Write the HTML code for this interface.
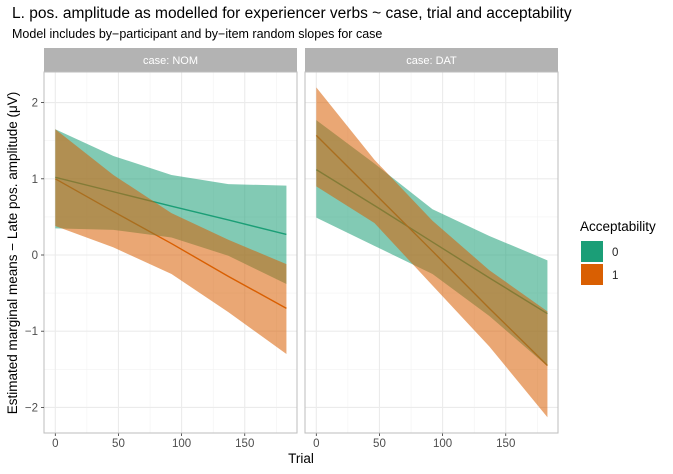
<!DOCTYPE html>
<html><head><meta charset="utf-8"><style>
body{margin:0;background:#fff;}
svg text{font-family:"Liberation Sans",Arial,sans-serif;}
</style></head><body>
<svg id="c" width="673" height="469" viewBox="0 0 673 469" xmlns="http://www.w3.org/2000/svg">
<text x="12" y="18" font-size="15.5" fill="#000">L. pos. amplitude as modelled for experiencer verbs ~ case, trial and acceptability</text>
<text x="12" y="38" font-size="12.5" fill="#000">Model includes by−participant and by−item random slopes for case</text>
<text transform="translate(17,253) rotate(-90)" text-anchor="middle" font-size="13.5" fill="#000">Estimated marginal means − Late pos. amplitude (μV)</text>
<text x="301" y="463" text-anchor="middle" font-size="13.5" fill="#000">Trial</text>
<text x="580" y="231" font-size="13.5" fill="#000">Acceptability</text>
<rect x="581" y="241" width="22" height="21" fill="#1B9E77"/>
<text x="612" y="256" font-size="11.5" fill="#222">0</text>
<rect x="581" y="264" width="22" height="21" fill="#D95F02"/>
<text x="612" y="279" font-size="11.5" fill="#222">1</text>
<g id="panels"></g>
</svg>
<script>
const trials=[0,46,92,137,183];
const xTicks=[0,50,100,150];
const yTicks=[-2,-1,0,1,2];
const panelNames=["case: NOM","case: DAT"];
// NOM
const nomA0Line=[1.02,0.83,0.64,0.46,0.27];
const nomA0Upper=[1.65,1.30,1.05,0.93,0.91];
const nomA0Lower=[0.35,0.33,0.23,-0.01,-0.38];
const nomA1Line=[1.00,0.57,0.15,-0.28,-0.70];
const nomA1Upper=[1.65,1.05,0.55,0.20,-0.12];
const nomA1Lower=[0.38,0.10,-0.25,-0.75,-1.30];
// DAT
const datA0Line=[1.12,0.65,0.17,-0.30,-0.77];
const datA0Upper=[1.77,1.20,0.60,0.25,-0.07];
const datA0Lower=[0.49,0.12,-0.25,-0.80,-1.46];
const datA1Line=[1.57,0.81,0.05,-0.70,-1.45];
const datA1Upper=[2.20,1.25,0.45,-0.20,-0.74];
const datA1Lower=[0.90,0.42,-0.40,-1.20,-2.13];

const NS="http://www.w3.org/2000/svg";
const g=document.getElementById('panels');
const panelX=[44,305], pw=253, py0=72, py1=433;
function yS(v){return 255-v*76.2;}
function mk(tag,attrs,parent){const e=document.createElementNS(NS,tag);for(const k in attrs)e.setAttribute(k,attrs[k]);(parent||g).appendChild(e);return e;}
const series=[
 [[nomA0Upper,nomA0Lower,nomA0Line,"#1B9E77"],[nomA1Upper,nomA1Lower,nomA1Line,"#D95F02"]],
 [[datA0Upper,datA0Lower,datA0Line,"#1B9E77"],[datA1Upper,datA1Lower,datA1Line,"#D95F02"]]
];
panelX.forEach((px,pi)=>{
  const xS=v=>px+11.3+v*1.263;
  const pg=mk('g',{});
  
  
  let r=mk('rect',{x:px,y:48,width:pw,height:24,fill:'#B3B3B3'},pg);
  
  
  let t=mk('text',{x:px+pw/2,y:64,'text-anchor':'middle','font-size':'11',fill:'#fff'},pg);
  t.textContent=panelNames[pi];
  
  
  mk('rect',{x:px,y:py0,width:pw,height:py1-py0,fill:'#fff'},pg);
  [-1.5,-0.5,0.5,1.5].forEach(v=>mk('line',{x1:px,x2:px+pw,y1:yS(v),y2:yS(v),stroke:'#F2F2F2','stroke-width':0.6},pg));
  [25,75,125,175].forEach(v=>mk('line',{x1:xS(v),x2:xS(v),y1:py0,y2:py1,stroke:'#F2F2F2','stroke-width':0.6},pg));
  yTicks.forEach(v=>{const l=mk('line',{x1:px,x2:px+pw,y1:yS(v),y2:yS(v),stroke:'#EBEBEB','stroke-width':1.1},pg);
    });
  xTicks.forEach(v=>{const l=mk('line',{x1:xS(v),x2:xS(v),y1:py0,y2:py1,stroke:'#EBEBEB','stroke-width':1.1},pg);
    
    mk('line',{x1:xS(v),x2:xS(v),y1:py1,y2:py1+3,stroke:'#333','stroke-width':0.8},pg);
    const tt=mk('text',{x:xS(v),y:py1+14,'text-anchor':'middle','font-size':'11.5',fill:'#4D4D4D'},pg);
    tt.textContent=v;});
  series[pi].forEach((s,si)=>{
    const [up,lo,ln,col]=s;
    const pl=mk('polyline',{points:trials.map((x,i)=>xS(x)+','+yS(ln[i])).join(' '),fill:'none',stroke:col,'stroke-width':1.4},pg);
    
    
  });
  series[pi].forEach((s,si)=>{
    const [up,lo,ln,col]=s;
    let d='M'+trials.map((x,i)=>xS(x)+','+yS(up[i])).join('L');
    d+='L'+trials.map((x,i)=>xS(x)+','+yS(lo[i])).reverse().join('L')+'Z';
    const rb=mk('path',{d:d,fill:col,'fill-opacity':0.55},pg);
    
    
  });
  mk('rect',{x:px,y:py0,width:pw,height:py1-py0,fill:'none',stroke:'#BDBDBD','stroke-width':1},pg);
  if(pi===0){
    yTicks.forEach(v=>{mk('line',{x1:px-3,x2:px,y1:yS(v),y2:yS(v),stroke:'#333','stroke-width':0.8},pg);
      const tt=mk('text',{x:px-6,y:yS(v)+4,'text-anchor':'end','font-size':'11.5',fill:'#4D4D4D'},pg);
      tt.textContent=v<0?'−'+Math.abs(v):v;});
  }
});
</script>
</body></html>
